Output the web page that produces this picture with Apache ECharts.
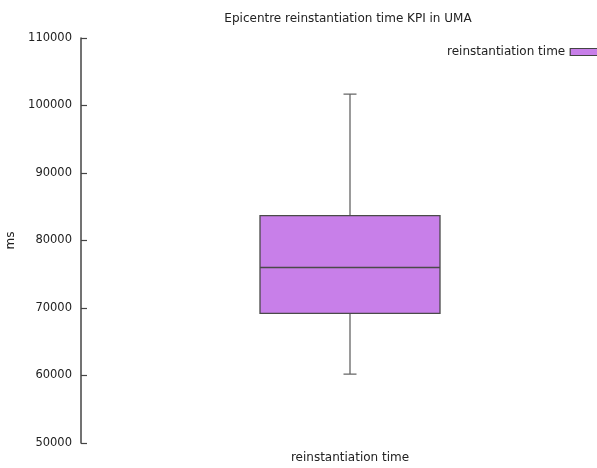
<!DOCTYPE html>
<html>
<head>
<meta charset="utf-8">
<script src="https://cdn.jsdelivr.net/npm/echarts@6/dist/echarts.min.js"></script>
<style>
html,body{margin:0;padding:0;background:#fff;}
#chart{width:597px;height:468px;}
</style>
</head>
<body>
<div id="chart"></div>
<script>
// data
var categories = ['reinstantiation time'];
var seriesName = 'reinstantiation time';
var minVals = [60200];
var q1Vals = [69200];
var medianVals = [76000];
var q3Vals = [83700];
var maxVals = [101700];
var yTicks = [50000, 60000, 70000, 80000, 90000, 100000, 110000];

var whiskerData = [];
var boxData = [];
for (var i = 0; i < categories.length; i++) {
    whiskerData.push([minVals[i], q1Vals[i], medianVals[i], q3Vals[i], maxVals[i]]);
    boxData.push([q1Vals[i], q1Vals[i], medianVals[i], q3Vals[i], q3Vals[i]]);
}

var chart = echarts.init(document.getElementById('chart'));
var font = 'DejaVu Sans';
var boxColor = '#c87fe9';
var option = {
    backgroundColor: '#ffffff',
    animation: false,
    textStyle: { fontFamily: font },
    title: {
        text: 'Epicentre reinstantiation time KPI in UMA',
        left: 343,
        textAlign: 'center',
        top: 8,
        textStyle: { fontSize: 12, fontWeight: 'normal', color: '#222', fontFamily: font }
    },
    legend: {
        data: [seriesName],
        left: 442,
        top: 41,
        align: 'right',
        icon: 'rect',
        itemWidth: 36,
        itemHeight: 7,
        itemGap: 8,
        itemStyle: { color: boxColor, borderColor: '#444', borderWidth: 1.2 },
        textStyle: { fontSize: 12, color: '#222', fontFamily: font }
    },
    grid: { left: 81, top: 38, height: 405, width: 538, outerBoundsMode: 'none', containLabel: false },
    xAxis: [
        {
            type: 'category',
            data: categories,
            axisLine: { show: false },
            axisTick: { show: false },
            axisLabel: { margin: 9, fontSize: 12, color: '#222', fontFamily: font },
            splitLine: { show: false }
        },
        {
            type: 'category',
            data: categories,
            show: false
        }
    ],
    yAxis: {
        type: 'value',
        min: yTicks[0],
        max: yTicks[yTicks.length - 1],
        interval: 10000,
        name: 'ms',
        nameLocation: 'middle',
        nameRotate: 90,
        nameGap: 63,
        nameTextStyle: { fontSize: 12, color: '#222', fontFamily: font },
        axisLine: { show: true, lineStyle: { color: '#444', width: 1.5 } },
        axisTick: { show: true, inside: true, length: 6, lineStyle: { color: '#444', width: 1.2 } },
        axisLabel: {
            fontSize: 11.5, color: '#222', margin: 9, fontFamily: font,
            formatter: function (v) { return String(v); }
        },
        splitLine: { show: false }
    },
    series: [
        {
            name: seriesName,
            type: 'boxplot',
            xAxisIndex: 1,
            data: whiskerData,
            boxWidth: [13, 13],
            itemStyle: { color: boxColor, borderColor: '#666', borderWidth: 1.3 },
            emphasis: { disabled: true }
        },
        {
            name: seriesName,
            type: 'boxplot',
            xAxisIndex: 0,
            data: boxData,
            boxWidth: [180, 180],
            itemStyle: { color: boxColor, borderColor: '#4a4a4a', borderWidth: 1.3 },
            emphasis: { disabled: true }
        }
    ]
};
chart.setOption(option);
</script>
</body>
</html>
